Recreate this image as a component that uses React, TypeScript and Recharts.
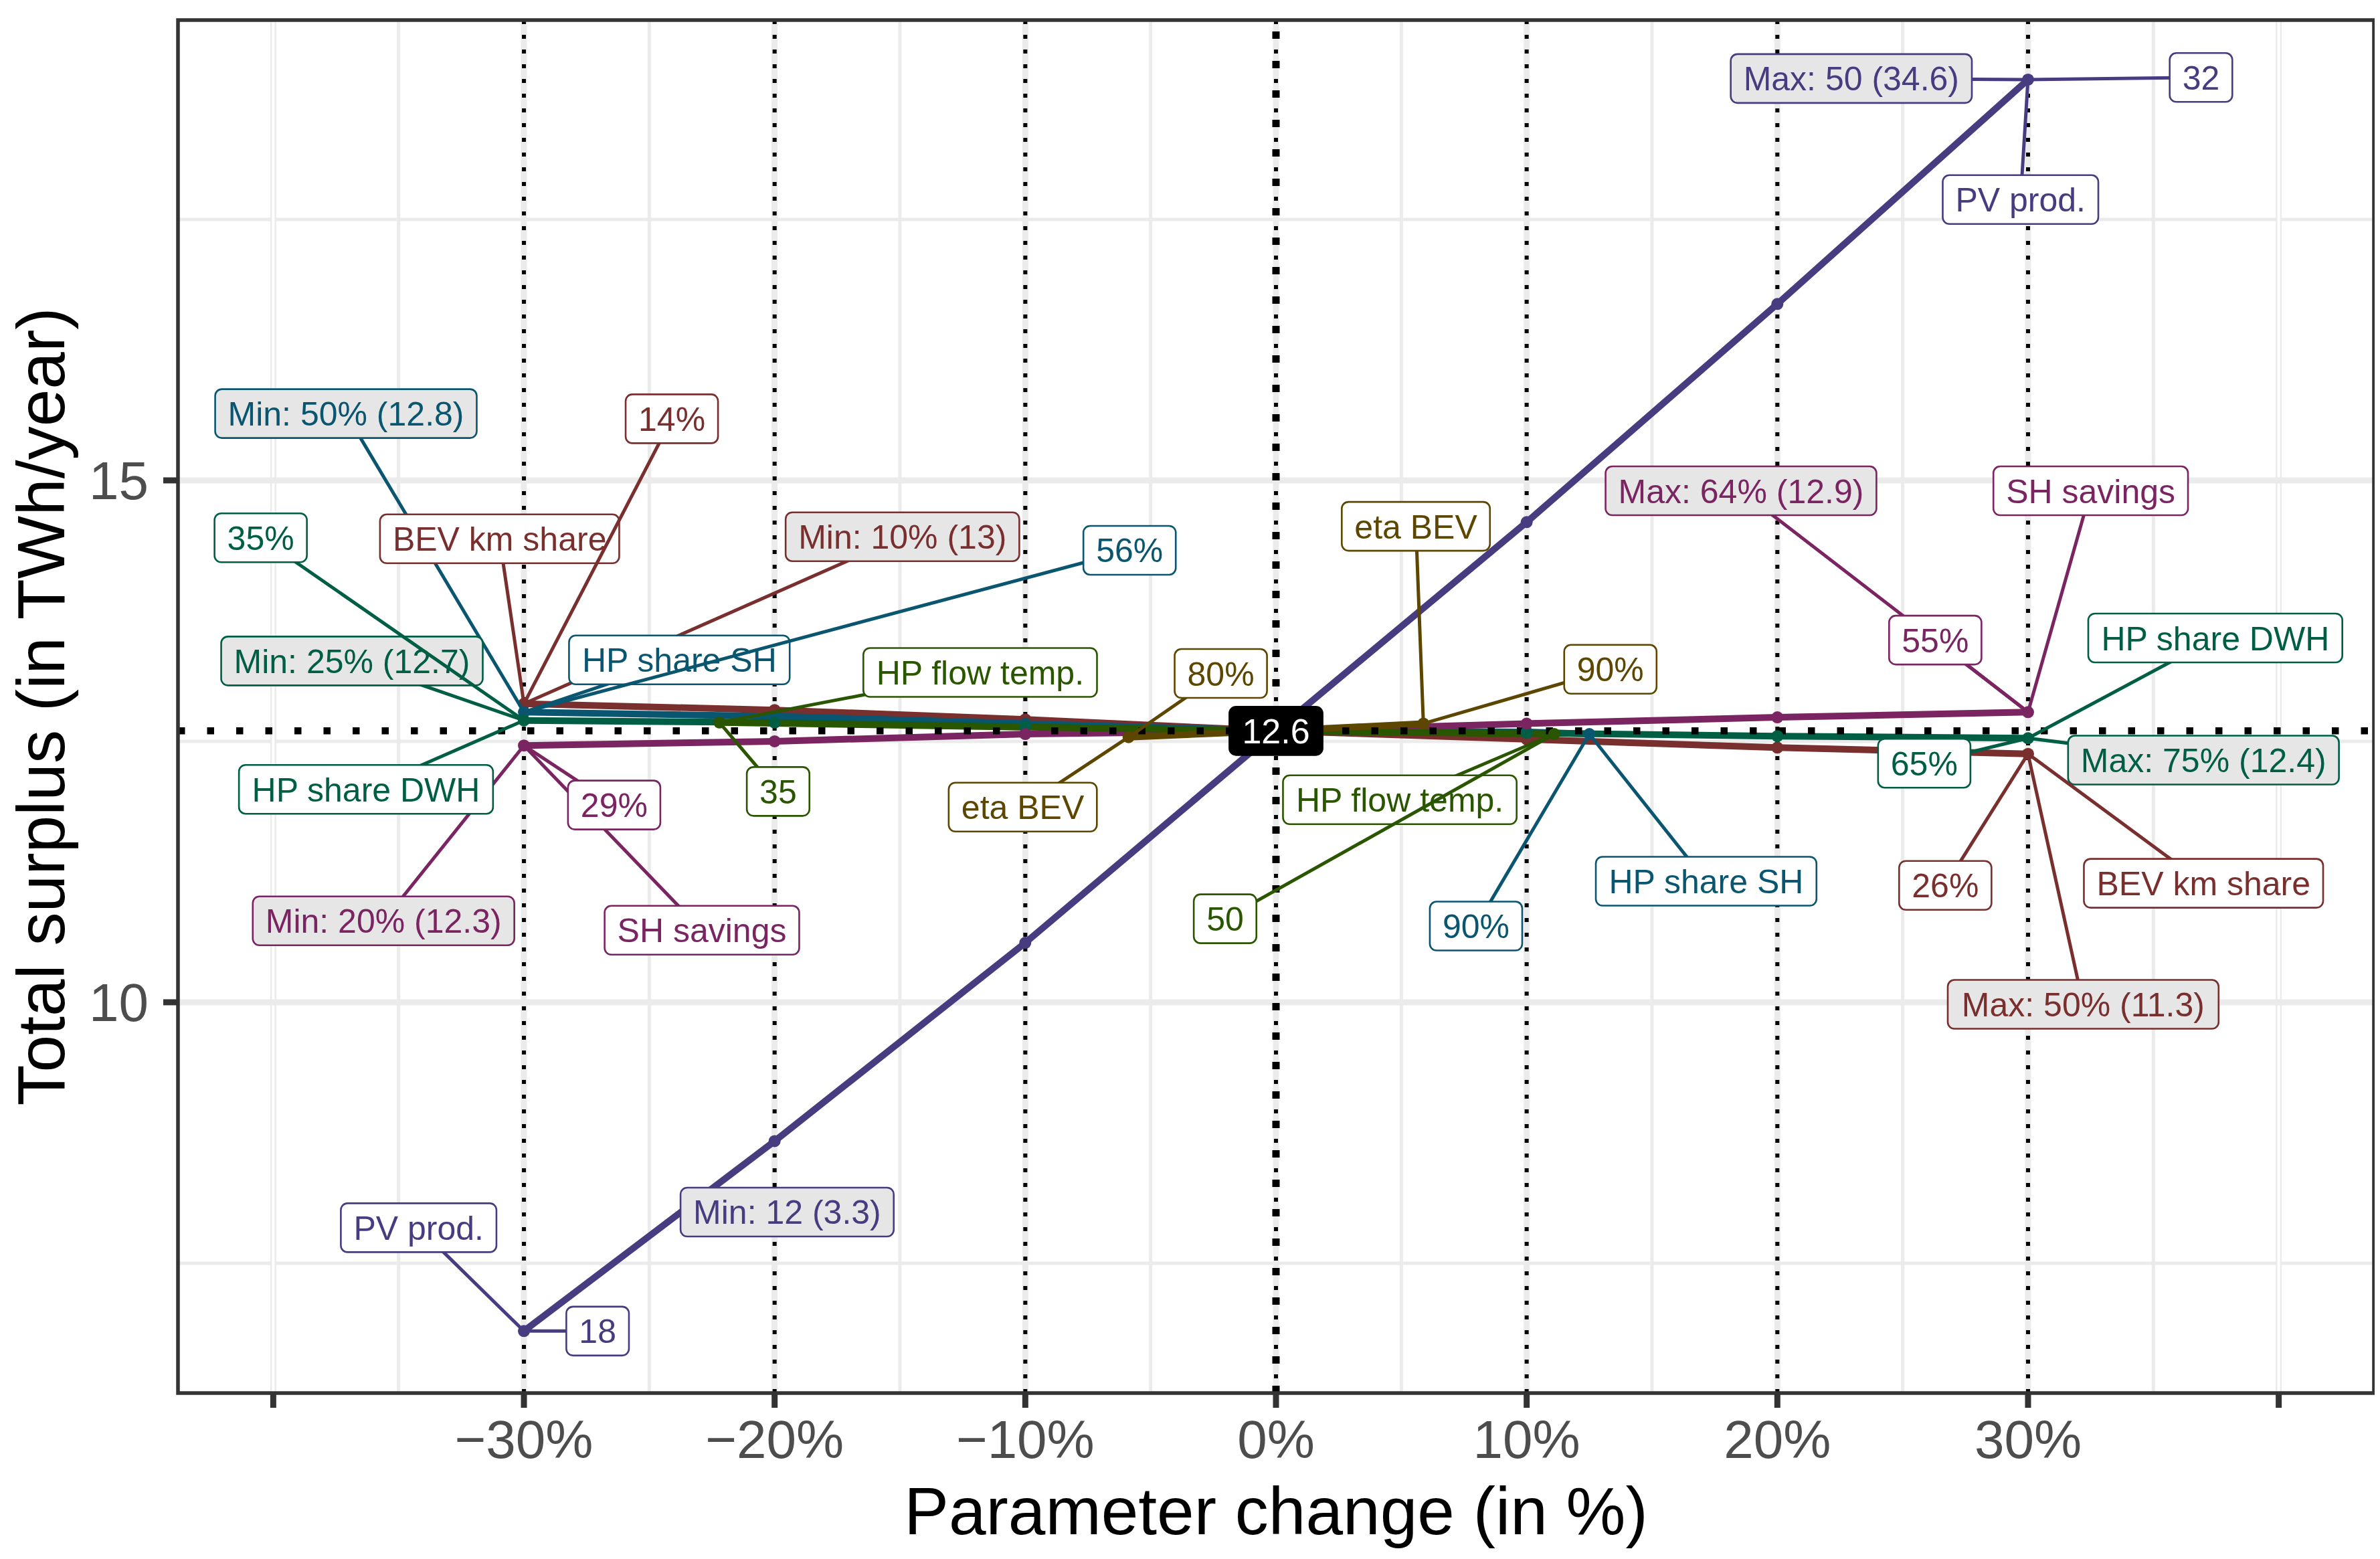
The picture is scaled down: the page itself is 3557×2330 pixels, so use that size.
import React from 'react';
import {
  ComposedChart,
  Line,
  XAxis,
  YAxis,
  ReferenceLine,
  ReferenceArea,
  Label,
} from 'recharts';

const FONT = '"Liberation Sans", Arial, Helvetica, sans-serif';
const WIDTH = 3541;
const HEIGHT = 2314;

// parameter change steps (in % from the base case)
const STEPS = [-30, -20, -10, 0, 10, 20, 30];
const HP_SH_STEPS = [-30, -20, -10, 0, 10, 12.5];
const FLOW_STEPS = [-22.2, 0, 11.1];
const ETA_STEPS = [-5.88, 0, 5.88];

// total surplus (TWh/year)
const pvProd = [6.85, 8.67, 10.57, 12.6, 14.6, 16.69, 18.84];
const bevKmShare = [12.86, 12.8, 12.71, 12.6, 12.52, 12.44, 12.38];
const hpShareSh = [12.78, 12.74, 12.67, 12.6, 12.59, 12.57];
const hpShareDwh = [12.7, 12.68, 12.64, 12.6, 12.58, 12.55, 12.53];
const shSavings = [12.46, 12.5, 12.57, 12.6, 12.67, 12.73, 12.78];
const hpFlowTemp = [12.68, 12.6, 12.57];
const etaBev = [12.54, 12.6, 12.67];

const BASE = 12.6;

const X_DOMAIN = [-43.8, 43.8];
const Y_DOMAIN = [6.256, 19.41];
const X_TICKS = [-40, -30, -20, -10, 0, 10, 20, 30, 40];
const Y_TICKS = [10, 15];
const X_MAJOR = [-30, -20, -10, 0, 10, 20, 30];
const X_MINOR = [-35, -25, -15, -5, 5, 15, 25, 35];
const X_EDGE = [-40, 40];
const Y_MINOR = [7.5, 12.5, 17.5];
const X_DOTTED = [-30, -20, -10, 10, 20, 30];

// drawing order matters a little where the lines overlap
const SERIES = [
  { key: 'bev', name: 'BEV km share', color: '#782F2D', xs: STEPS, ys: bevKmShare },
  { key: 'hpsh', name: 'HP share SH', color: '#0A5670', xs: HP_SH_STEPS, ys: hpShareSh },
  { key: 'dwh', name: 'HP share DWH', color: '#005E45', xs: STEPS, ys: hpShareDwh },
  { key: 'shs', name: 'SH savings', color: '#7A2462', xs: STEPS, ys: shSavings },
  { key: 'flow', name: 'HP flow temp.', color: '#2A5600', xs: FLOW_STEPS, ys: hpFlowTemp },
  { key: 'eta', name: 'eta BEV', color: '#5C4600', xs: ETA_STEPS, ys: etaBev },
  { key: 'pv', name: 'PV prod.', color: '#473C80', xs: STEPS, ys: pvProd },
];

type Kind = 'range' | 'name' | 'param' | 'base';
type Tag = { text: string; s: string; x: number; y: number; at?: number };

// repelled labels: where the box sits, and which point of the series it points to
const rangeTags: Tag[] = [
  { text: 'Max: 50 (34.6)', s: 'pv', x: 22.95, y: 18.85, at: 6 },
  { text: 'Min: 12 (3.3)', s: 'pv', x: -19.5, y: 7.99 },
  { text: 'Min: 50% (12.8)', s: 'hpsh', x: -37.1, y: 15.64, at: 0 },
  { text: 'Min: 25% (12.7)', s: 'dwh', x: -36.86, y: 13.27, at: 0 },
  { text: 'Max: 75% (12.4)', s: 'dwh', x: 37.0, y: 12.32, at: 6 },
  { text: 'Min: 10% (13)', s: 'bev', x: -14.9, y: 14.46, at: 0 },
  { text: 'Max: 50% (11.3)', s: 'bev', x: 32.2, y: 9.98, at: 6 },
  { text: 'Min: 20% (12.3)', s: 'shs', x: -35.6, y: 10.78, at: 0 },
  { text: 'Max: 64% (12.9)', s: 'shs', x: 18.55, y: 14.9, at: 6 },
];

const nameTags: Tag[] = [
  { text: 'PV prod.', s: 'pv', x: 29.7, y: 17.69, at: 6 },
  { text: 'PV prod.', s: 'pv', x: -34.2, y: 7.84, at: 0 },
  { text: 'HP share SH', s: 'hpsh', x: -23.8, y: 13.28, at: 0 },
  { text: 'HP share SH', s: 'hpsh', x: 17.16, y: 11.16, at: 5 },
  { text: 'HP share DWH', s: 'dwh', x: -36.3, y: 12.04, at: 0 },
  { text: 'HP share DWH', s: 'dwh', x: 37.47, y: 13.49, at: 6 },
  { text: 'HP flow temp.', s: 'flow', x: -11.8, y: 13.16, at: 0 },
  { text: 'HP flow temp.', s: 'flow', x: 4.94, y: 11.94, at: 2 },
  { text: 'eta BEV', s: 'eta', x: -10.1, y: 11.87, at: 0 },
  { text: 'eta BEV', s: 'eta', x: 5.58, y: 14.56, at: 2 },
  { text: 'BEV km share', s: 'bev', x: -30.97, y: 14.44, at: 0 },
  { text: 'BEV km share', s: 'bev', x: 37.0, y: 11.14, at: 6 },
  { text: 'SH savings', s: 'shs', x: -22.9, y: 10.69, at: 0 },
  { text: 'SH savings', s: 'shs', x: 32.5, y: 14.9, at: 6 },
];

const paramTags: Tag[] = [
  { text: '32', s: 'pv', x: 36.9, y: 18.86, at: 6 },
  { text: '18', s: 'pv', x: -27.06, y: 6.85, at: 0 },
  { text: '56%', s: 'hpsh', x: -5.84, y: 14.33, at: 0 },
  { text: '90%', s: 'hpsh', x: 7.98, y: 10.73, at: 5 },
  { text: '35%', s: 'dwh', x: -40.5, y: 14.45, at: 0 },
  { text: '65%', s: 'dwh', x: 25.86, y: 12.29, at: 6 },
  { text: '35', s: 'flow', x: -19.86, y: 12.02, at: 0 },
  { text: '50', s: 'flow', x: -2.03, y: 10.8, at: 2 },
  { text: '80%', s: 'eta', x: -2.2, y: 13.15, at: 0 },
  { text: '90%', s: 'eta', x: 13.34, y: 13.19, at: 2 },
  { text: '14%', s: 'bev', x: -24.1, y: 15.59, at: 0 },
  { text: '26%', s: 'bev', x: 26.7, y: 11.12, at: 6 },
  { text: '29%', s: 'shs', x: -26.4, y: 11.89, at: 0 },
  { text: '55%', s: 'shs', x: 26.3, y: 13.47, at: 6 },
];

// Arial / Liberation Sans advance widths (per 1000 em), enough for the labels
const ADV: Record<string, number> = {
  ' ': 278, '%': 889, '(': 333, ')': 333, '.': 278, ':': 278, '/': 278, '-': 333,
  A: 667, B: 667, D: 722, E: 667, H: 722, M: 833, P: 667, S: 667, V: 667, W: 944,
  a: 556, d: 556, e: 556, f: 278, g: 556, h: 556, i: 222, k: 500, l: 222, m: 833,
  n: 556, o: 556, p: 556, r: 333, s: 500, t: 278, v: 500, w: 722, x: 500,
};
const textWidth = (s: string, size: number) =>
  s.split('').reduce((w, c) => w + (/[0-9]/.test(c) ? 556 : ADV[c] ?? 556), 0) * size / 1000;

const colorOf = (key: string) => SERIES.find(s => s.key === key)?.color ?? '#000';

function anchorOf(tag: Tag) {
  const series = SERIES.find(s => s.key === tag.s);
  if (!series || tag.at === undefined) return { x: tag.x, y: tag.y };
  return { x: series.xs[tag.at], y: series.ys[tag.at] };
}

function tagShape(tag: Tag, kind: Kind) {
  const color = kind === 'base' ? '#000' : colorOf(tag.s);
  const size = kind === 'base' ? 52 : 50;
  const w = textWidth(tag.text, size) + 38;
  const h = kind === 'base' ? 72 : 73;
  const fill = kind === 'range' ? '#E6E6E6' : kind === 'base' ? '#000' : '#FFFFFF';
  const ink = kind === 'base' ? '#FFFFFF' : color;
  return (p: any) => (
    <g>
      {tag.at !== undefined && (
        <line x1={p.x1} y1={p.y1} x2={p.x2} y2={p.y2} stroke={color} strokeWidth={5} />
      )}
      <rect
        x={p.x1 - w / 2}
        y={p.y1 - h / 2}
        width={w}
        height={h}
        rx={10}
        ry={10}
        fill={fill}
        stroke={color}
        strokeWidth={2.6}
      />
      <text
        x={p.x1}
        y={p.y1 + size * 0.36}
        textAnchor="middle"
        fontSize={size}
        fontFamily={FONT}
        fill={ink}
      >
        {tag.text}
      </text>
    </g>
  );
}

const fmtPct = (v: number) => {
  if (Math.abs(v) === 40) return '';
  return `${v < 0 ? '\u2212' : ''}${Math.abs(v)}%`;
};

const XTitle = (p: any) => {
  const vb = p.viewBox ?? { x: 258, y: 2074, width: 3282, height: 240 };
  return (
    <text x={vb.x + vb.width / 2} y={vb.y + 211} textAnchor="middle" fontSize={100} fontFamily={FONT} fill="#000">
      Parameter change (in %)
    </text>
  );
};

const YTitle = (p: any) => {
  const vb = p.viewBox ?? { x: 0, y: 22, width: 258, height: 2052 };
  const x = vb.x + 88;
  const y = vb.y + vb.height / 2;
  return (
    <text
      x={x}
      y={y}
      transform={`rotate(-90, ${x}, ${y})`}
      textAnchor="middle"
      fontSize={100}
      fontFamily={FONT}
      fill="#000"
    >
      Total surplus (in TWh/year)
    </text>
  );
};

export default function App() {
  const allTags: { tag: Tag; kind: Kind }[] = [
    ...rangeTags.map(tag => ({ tag, kind: 'range' as Kind })),
    ...nameTags.map(tag => ({ tag, kind: 'name' as Kind })),
    ...paramTags.map(tag => ({ tag, kind: 'param' as Kind })),
    { tag: { text: String(BASE), s: 'base', x: 0, y: BASE }, kind: 'base' as Kind },
  ];

  return (
    <div style={{ width: WIDTH, height: HEIGHT, background: '#fff' }}>
      <ComposedChart width={WIDTH} height={HEIGHT} margin={{ top: 22, right: 1, bottom: 0, left: 0 }}>
        <XAxis
          type="number"
          dataKey="x"
          domain={X_DOMAIN}
          ticks={X_TICKS}
          interval={0}
          allowDataOverflow
          height={240}
          axisLine={false}
          tickLine={{ stroke: '#333333', strokeWidth: 9 }}
          tickSize={22}
          tickMargin={18}
          tickFormatter={fmtPct}
          tick={{ fontSize: 80, fill: '#4D4D4D', fontFamily: FONT }}
        >
          <Label content={XTitle} />
        </XAxis>
        <YAxis
          type="number"
          domain={Y_DOMAIN}
          ticks={Y_TICKS}
          interval={0}
          allowDataOverflow
          width={258}
          axisLine={false}
          tickLine={{ stroke: '#333333', strokeWidth: 9 }}
          tickSize={22}
          tickMargin={22}
          tick={{ fontSize: 80, fill: '#4D4D4D', fontFamily: FONT }}
        >
          <Label content={YTitle} />
        </YAxis>

        {/* panel grid */}
        {Y_MINOR.map(v => (
          <ReferenceLine key={`ym${v}`} y={v} stroke="#EBEBEB" strokeWidth={5} zIndex={-90} />
        ))}
        {X_MINOR.map(v => (
          <ReferenceLine key={`xm${v}`} x={v} stroke="#EBEBEB" strokeWidth={5} zIndex={-90} />
        ))}
        {X_EDGE.map(v => (
          <ReferenceLine key={`xe${v}`} x={v} stroke="#EBEBEB" strokeWidth={9} zIndex={-90} />
        ))}
        {X_EDGE.map(v => (
          <ReferenceLine key={`xw${v}`} x={v} stroke="#FFFFFF" strokeWidth={4} zIndex={-90} />
        ))}
        {Y_TICKS.map(v => (
          <ReferenceLine key={`yM${v}`} y={v} stroke="#EBEBEB" strokeWidth={9} zIndex={-90} />
        ))}
        {X_MAJOR.map(v => (
          <ReferenceLine key={`xM${v}`} x={v} stroke="#EBEBEB" strokeWidth={9} zIndex={-90} />
        ))}

        {SERIES.map(s => (
          <Line
            key={s.key}
            data={s.xs.map((x, i) => ({ x, y: s.ys[i] }))}
            dataKey="y"
            name={s.name}
            type="linear"
            stroke={s.color}
            strokeWidth={10}
            strokeLinejoin="round"
            dot={{ r: 9, fill: s.color, stroke: 'none' }}
            activeDot={false}
            isAnimationActive={false}
          />
        ))}

        {/* base case markers */}
        {X_DOTTED.map(v => (
          <ReferenceLine key={`d${v}`} x={v} stroke="#000" strokeWidth={6} strokeDasharray="6 16" zIndex={450} />
        ))}
        <ReferenceLine x={0} stroke="#000" strokeWidth={6} strokeDasharray="6 16" zIndex={450} />
        <ReferenceLine x={0} stroke="#000" strokeWidth={11} strokeDasharray="11 33" zIndex={450} />
        <ReferenceLine y={BASE} stroke="#000" strokeWidth={10.5} strokeDasharray="10.5 33" zIndex={450} />

        {allTags.map(({ tag, kind }, i) => {
          const a = anchorOf(tag);
          return (
            <ReferenceLine
              key={`t${i}`}
              segment={[{ x: tag.x, y: tag.y }, { x: a.x, y: a.y }]}
              shape={tagShape(tag, kind)}
              zIndex={2100}
            />
          );
        })}

        <ReferenceArea
          x1={X_DOMAIN[0]}
          x2={X_DOMAIN[1]}
          y1={Y_DOMAIN[0]}
          y2={Y_DOMAIN[1]}
          fill="none"
          fillOpacity={0}
          stroke="#333333"
          strokeWidth={5.5}
          zIndex={2200}
        />
      </ComposedChart>
    </div>
  );
}
